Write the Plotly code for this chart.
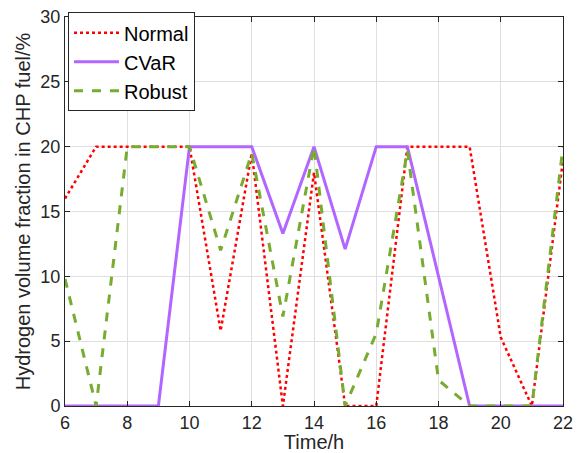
import plotly.graph_objects as go

hours = list(range(6, 23))
normal = [16, 20, 20, 20, 20, 5.8, 19.5, 0, 18, 0, 0, 20, 20, 20, 5.3, 0, 19]
cvar = [0, 0, 0, 0, 20, 20, 20, 13.3, 20, 12.1, 20, 20, 10, 0, 0, 0, 0]
robust = [9.8, 0, 20, 20, 20, 12, 19.5, 6.9, 20, 0, 5.6, 19.7, 2, 0, 0, 0, 20]

x_ticks = list(range(6, 23, 2))
y_ticks = list(range(0, 31, 5))

fig = go.Figure()
fig.add_trace(go.Scatter(x=hours, y=normal, mode="lines", name="Normal",
                         line=dict(color="#FF0000", width=2.5, dash="dot")))
fig.add_trace(go.Scatter(x=hours, y=cvar, mode="lines", name="CVaR",
                         line=dict(color="#B266FF", width=3)))
fig.add_trace(go.Scatter(x=hours, y=robust, mode="lines", name="Robust",
                         line=dict(color="#77AC30", width=3, dash="dash")))

axis_common = dict(showline=True, linecolor="#262626", linewidth=1, mirror="ticks",
                   ticks="inside", ticklen=5, tickcolor="#262626", automargin=False,
                   showgrid=True, gridcolor="#DFDFDF", gridwidth=1, zeroline=False,
                   tickfont=dict(family="Liberation Sans, Arial", size=18, color="#262626"))

fig.update_layout(
    width=580, height=453,
    margin=dict(l=65, r=17, t=12, b=47),
    paper_bgcolor="white", plot_bgcolor="white",
    font=dict(family="Liberation Sans, Arial", color="#262626"),
    xaxis=dict(range=[6, 22], tickvals=x_ticks,
               title=dict(text="Time/h", font=dict(size=20), standoff=0), **axis_common),
    yaxis=dict(range=[0, 30], tickvals=y_ticks,
               title=dict(text="Hydrogen volume fraction in CHP fuel/%", font=dict(size=20), standoff=4),
               **axis_common),
    legend=dict(x=0.006, y=1.012, xanchor="left", yanchor="top",
                bordercolor="#262626", borderwidth=1, bgcolor="white", itemwidth=45,
                font=dict(size=20, color="#000000"), tracegroupgap=0),
    showlegend=True,
)

fig.write_html("out.html")
